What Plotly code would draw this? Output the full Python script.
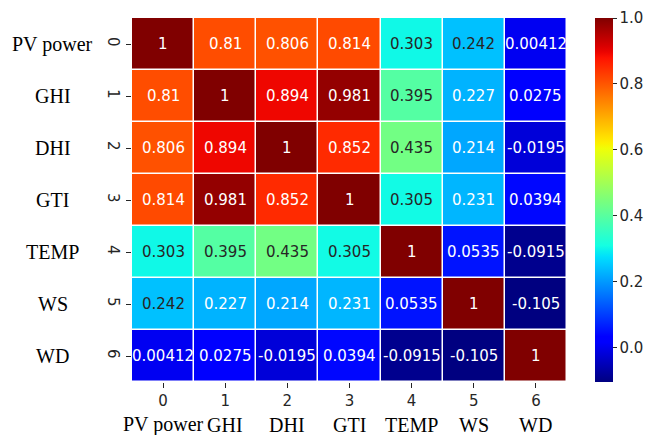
import plotly.graph_objects as go
import numpy as np

names = ["PV power", "GHI", "DHI", "GTI", "TEMP", "WS", "WD"]
idx = [0, 1, 2, 3, 4, 5, 6]
corr = [
    [1, 0.81, 0.806, 0.814, 0.303, 0.242, 0.00412],
    [0.81, 1, 0.894, 0.981, 0.395, 0.227, 0.0275],
    [0.806, 0.894, 1, 0.852, 0.435, 0.214, -0.0195],
    [0.814, 0.981, 0.852, 1, 0.305, 0.231, 0.0394],
    [0.303, 0.395, 0.435, 0.305, 1, 0.0535, -0.0915],
    [0.242, 0.227, 0.214, 0.231, 0.0535, 1, -0.105],
    [0.00412, 0.0275, -0.0195, 0.0394, -0.0915, -0.105, 1],
]
cbar_ticks = [0.0, 0.2, 0.4, 0.6, 0.8, 1.0]

# matplotlib 'jet' colormap
def seg(x, pts):
    xs = [p[0] for p in pts]; ys = [p[1] for p in pts]
    return float(np.interp(x, xs, ys))
R = [(0, 0), (0.35, 0), (0.66, 1), (0.89, 1), (1, 0.5)]
G = [(0, 0), (0.125, 0), (0.375, 1), (0.64, 1), (0.91, 0), (1, 0)]
B = [(0, 0.5), (0.11, 1), (0.34, 1), (0.65, 0), (1, 0)]
def jet(t):
    return (seg(t, R), seg(t, G), seg(t, B))
samples = np.linspace(0, 1, 65)
jet_scale = []
for t in samples:
    r, g, b = jet(t)
    jet_scale.append([float(t), f"rgb({round(r*255)},{round(g*255)},{round(b*255)})"])

zmin, zmax = -0.105, 1.0

fig = go.Figure(go.Heatmap(
    z=corr, x=idx, y=idx, zmin=zmin, zmax=zmax, colorscale=jet_scale,
    xgap=1.5, ygap=1.5, hoverinfo="skip",
    colorbar=dict(x=1.0638, xanchor="left", xpad=0, ypad=0, len=1, lenmode="fraction",
                  y=0.5, yanchor="middle", thickness=18, outlinewidth=0,
                  tickvals=cbar_ticks, ticktext=[f"{v:.1f}" for v in cbar_ticks],
                  ticks="outside", ticklen=4, tickcolor="#262626",
                  tickfont=dict(family="DejaVu Sans", size=15, color="#262626")),
))

def fmt(v):
    return format(v, ".3g")

annos = []
for i, row in enumerate(corr):
    for j, v in enumerate(row):
        col = "#262626" if 0.235 < v < 0.6 else "white"
        annos.append(dict(x=j, y=i, xref="x", yref="y", text=fmt(v), showarrow=False,
                          font=dict(family="DejaVu Sans", size=15, color=col)))
for k, n in enumerate(names):
    annos.append(dict(x=-0.182, y=k, xref="paper", yref="y", text=n, showarrow=False,
                      xanchor="center", yanchor="middle",
                      font=dict(family="Liberation Serif", size=20, color="black")))
    annos.append(dict(x=k, y=-0.118, xref="x", yref="paper", text=n, showarrow=False,
                      xanchor="center", yanchor="middle",
                      font=dict(family="Liberation Serif", size=20, color="black")))

fig.update_layout(
    width=656, height=435,
    margin=dict(l=132, r=85, t=18, b=53),
    paper_bgcolor="white", plot_bgcolor="white",
    annotations=annos,
    xaxis=dict(tickvals=idx, ticktext=[str(i) for i in idx], ticks="outside", ticklen=5,
               tickcolor="#262626", showgrid=False, zeroline=False, showline=False,
               range=[-0.5, 6.5],
               tickfont=dict(family="DejaVu Sans", size=15, color="#262626")),
    yaxis=dict(tickvals=idx, ticktext=[str(i) for i in idx], ticks="outside", ticklen=5,
               tickcolor="#262626", showgrid=False, zeroline=False, showline=False,
               range=[6.5, -0.5], tickangle=90,
               tickfont=dict(family="DejaVu Sans", size=15, color="#262626")),
)

fig.write_html("out.html")
